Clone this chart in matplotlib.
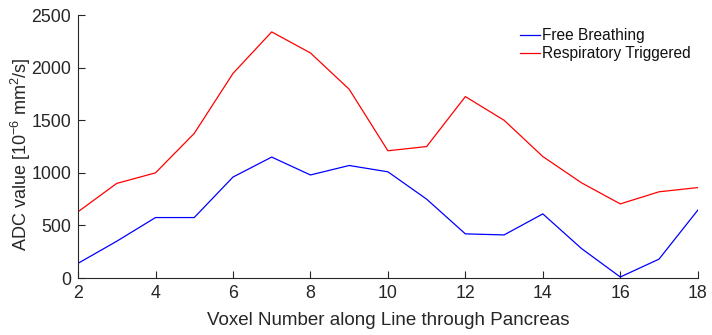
import matplotlib
matplotlib.use("Agg")
import matplotlib.pyplot as plt

plt.rcParams['font.family'] = ['Liberation Sans', 'DejaVu Sans']
plt.rcParams['mathtext.default'] = 'regular'

voxel = [2, 3, 4, 5, 6, 7, 8, 9, 10, 11, 12, 13, 14, 15, 16, 17, 18]
free_breathing = [140, 350, 575, 575, 960, 1150, 980, 1070, 1010, 750, 420, 410, 610, 280, 10, 180, 645]
resp_triggered = [630, 900, 1000, 1375, 1945, 2340, 2140, 1795, 1210, 1250, 1725, 1500, 1155, 905, 705, 820, 860]

xticks = [2, 4, 6, 8, 10, 12, 14, 16, 18]
yticks = [0, 500, 1000, 1500, 2000, 2500]

text_color = '#262626'

fig = plt.figure(figsize=(7.12, 3.35), dpi=100)
ax = fig.add_axes([0.1096, 0.170, 0.8704, 0.785])

ax.plot(voxel, free_breathing, color='#0000ff', lw=0.9, label='Free Breathing')
ax.plot(voxel, resp_triggered, color='#ff0000', lw=0.9, label='Respiratory Triggered')

ax.set_xlim(2, 18)
ax.set_ylim(0, 2500)
ax.set_xticks(xticks)
ax.set_yticks(yticks)

for side in ('top', 'right'):
    ax.spines[side].set_visible(False)
for side in ('left', 'bottom'):
    ax.spines[side].set_color(text_color)
    ax.spines[side].set_linewidth(0.8)

ax.tick_params(direction='in', length=5, width=0.8, colors=text_color,
               labelsize=12.8, pad=5)

ax.set_xlabel('Voxel Number along Line through Pancreas', fontsize=13.5, color=text_color, labelpad=7)
ax.set_ylabel('ADC value [10$^{-6}$ mm$^{2}$/s]', fontsize=13, color=text_color)
ax.yaxis.set_label_coords(-0.072, 0.47)

leg = ax.legend(loc='upper right', bbox_to_anchor=(1.011, 1.003), frameon=False, fontsize=11.2,
                handlelength=1.3, handletextpad=0.1, labelspacing=0.2)
for t in leg.get_texts():
    t.set_color('#111111')

fig.savefig('out.png', dpi=100)
